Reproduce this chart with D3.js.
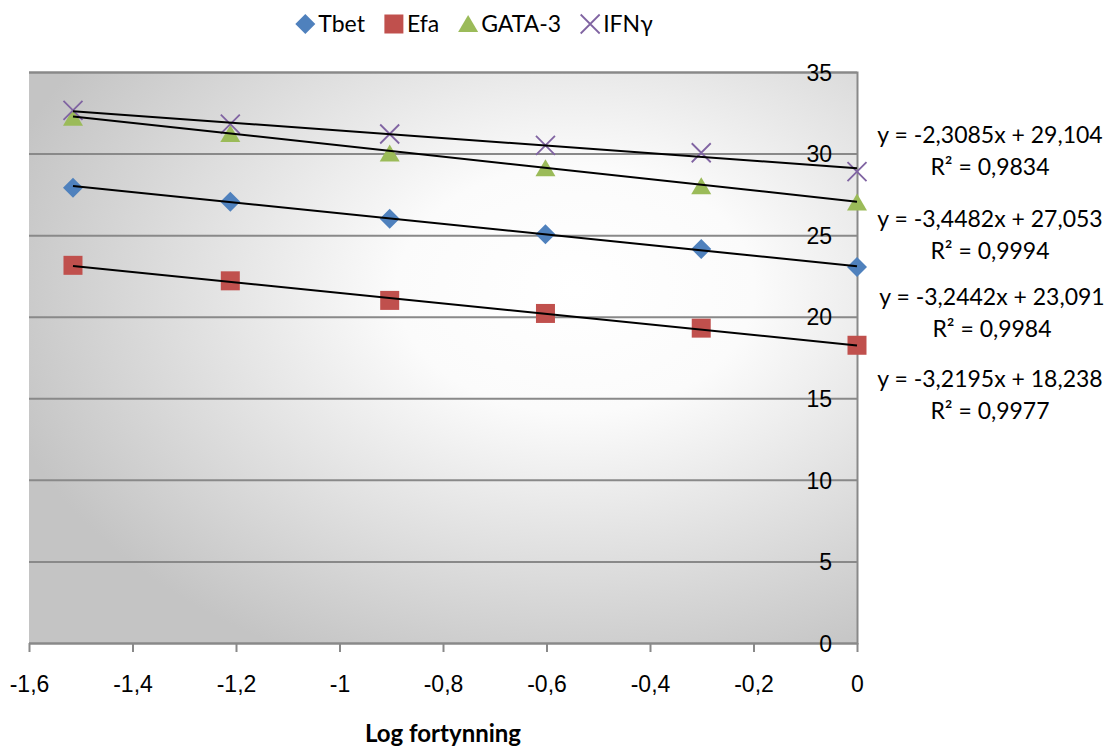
<!DOCTYPE html>
<html>
<head>
<meta charset="utf-8">
<script src="https://cdn.jsdelivr.net/npm/d3@7"></script>
<style>
	body { margin: 0; background: #fff; }
	svg { display: block; font-family: Lato, 'Open Sans', sans-serif; }
</style>
</head>
<body>
<div class="chart"></div>
<script>
// Chart size and plot area
const width = 1111;
const height = 747;
const margin = { top: 72, right: 254, bottom: 104, left: 29 };

// Data: log dilution on x, Ct value on y
const xValues = [-1.515, -1.211, -0.903, -0.602, -0.301, 0];
const tbetValues = [27.9, 27.05, 26.0, 25.05, 24.15, 23.05];
const efaValues = [23.15, 22.2, 21.0, 20.2, 19.3, 18.25];
const gataValues = [32.2, 31.2, 30.0, 29.1, 28.0, 27.0];
const ifnValues = [32.65, 31.8, 31.2, 30.5, 30.05, 28.9];

const seriesNames = ['Tbet', 'Efa', 'GATA-3', 'IFNγ'];
const seriesColors = ['#4f81bd', '#c0504d', '#9bbb59', '#8064a2'];
const seriesShapes = ['diamond', 'square', 'triangle', 'cross'];

// Linear trendlines (as printed on the chart)
const trendSlopes = [-3.2442, -3.2195, -3.4482, -2.3085];
const trendIntercepts = [23.091, 18.238, 27.053, 29.104];
const trendR2 = [0.9984, 0.9977, 0.9994, 0.9834];
// where the equation labels sit (centre x, y of the first line)
const labelPos = [[992, 297], [990, 379], [990, 219], [990, 135]];

const xTicks = [-1.6, -1.4, -1.2, -1, -0.8, -0.6, -0.4, -0.2, 0];
const yTicks = [0, 5, 10, 15, 20, 25, 30, 35];
const xTitle = 'Log fortynning';

const series = [tbetValues, efaValues, gataValues, ifnValues].map((vals, i) => ({
	name: seriesNames[i],
	color: seriesColors[i],
	shape: seriesShapes[i],
	slope: trendSlopes[i],
	intercept: trendIntercepts[i],
	r2: trendR2[i],
	label: labelPos[i],
	points: vals.map((v, j) => ({ x: xValues[j], y: v }))
}));

// Norwegian style numbers: decimal comma, plain hyphen
const locale = d3.formatLocale({ decimal: ',', thousands: ' ', grouping: [3], currency: ['', ''], minus: '-' });
const fmtTick = locale.format('');
const fmt4 = locale.format('.4f');
const fmt3 = locale.format('.3f');

const fontSize = 23;
const gridColor = '#898989';

function markerPath(shape) {
	if (shape === 'diamond') return 'M0,-10L10,0L0,10L-10,0Z';
	if (shape === 'square') return 'M-9.5,-9.5H9.5V9.5H-9.5Z';
	if (shape === 'triangle') return 'M0,-9L10,8L-10,8Z';
	return 'M-9.5,-9.5L9.5,9.5M-9.5,9.5L9.5,-9.5';
}

function styleMarker(sel, d) {
	if (d.shape === 'cross') {
		sel.attr('fill', 'none').attr('stroke', d.color).attr('stroke-width', 1.8);
	} else {
		sel.attr('fill', d.color).attr('stroke', 'none');
	}
}

function draw() {
	const svg = d3.select('.chart')
		.append('svg')
		.attr('width', width)
		.attr('height', height)
		.style('font-size', fontSize + 'px');

	const x = d3.scaleLinear()
		.domain([-1.6, 0])
		.range([margin.left, width - margin.right]);

	const y = d3.scaleLinear()
		.domain([0, 35])
		.range([height - margin.bottom, margin.top]);

	// Plot area gradient
	const grad = svg.append('defs').append('radialGradient')
		.attr('id', 'bg')
		.attr('cx', 0.66).attr('cy', 0.38).attr('r', 0.72)
		.attr('fx', 0.66).attr('fy', 0.38);
	grad.append('stop').attr('offset', 0).attr('stop-color', '#ffffff');
	grad.append('stop').attr('offset', 0.3).attr('stop-color', '#fbfbfb');
	grad.append('stop').attr('offset', 1).attr('stop-color', '#c4c4c4');

	svg.append('rect')
		.attr('x', x(-1.6))
		.attr('y', y(35))
		.attr('width', x(0) - x(-1.6))
		.attr('height', y(0) - y(35))
		.attr('fill', 'url(#bg)');

	// Gridlines + y labels (axis sits on the right, at x = 0)
	const yAxis = svg.append('g')
		.attr('transform', `translate(${x(0)},0)`)
		.call(d3.axisLeft(y).tickValues(yTicks).tickFormat(fmtTick)
			.tickSize(x(0) - x(-1.6)).tickPadding(-x(0) + x(-1.6) + 25))
		.call(g => g.select('.domain').attr('stroke', gridColor).attr('stroke-width', 2));
	yAxis.selectAll('.tick line').attr('stroke', gridColor).attr('stroke-width', 2);
	yAxis.selectAll('.tick text')
		.attr('fill', '#000')
		.attr('font-size', fontSize)
		.attr('font-family', null)
		.attr('dy', '0.36em')
		.attr('text-anchor', 'end')
		.attr('x', -25);

	// x axis along y = 0
	const xAxis = svg.append('g')
		.attr('transform', `translate(0,${y(0)})`)
		.call(d3.axisBottom(x).tickValues(xTicks).tickFormat(fmtTick).tickSize(9).tickPadding(24))
		.call(g => g.select('.domain').remove());
	xAxis.selectAll('.tick line').attr('stroke', gridColor).attr('stroke-width', 2);
	xAxis.selectAll('.tick text')
		.attr('fill', '#000')
		.attr('font-size', fontSize)
		.attr('font-family', null);

	svg.append('text')
		.attr('x', (x(-1.6) + x(0)) / 2)
		.attr('y', 742)
		.attr('text-anchor', 'middle')
		.attr('font-weight', 'bold')
		.attr('font-size', 24)
		.text(xTitle);

	// Markers
	series.forEach(s => {
		svg.append('g')
			.selectAll('path')
			.data(s.points)
			.join('path')
				.attr('transform', d => `translate(${x(d.x)},${y(d.y)})`)
				.attr('d', markerPath(s.shape))
				.call(sel => styleMarker(sel, s));
	});

	// Trendlines on top, over the data range
	const xExtent = d3.extent(xValues);
	svg.append('g')
		.selectAll('line')
		.data(series)
		.join('line')
			.attr('x1', x(xExtent[0]))
			.attr('x2', x(xExtent[1]))
			.attr('y1', d => y(d.slope * xExtent[0] + d.intercept))
			.attr('y2', d => y(d.slope * xExtent[1] + d.intercept))
			.attr('stroke', '#000')
			.attr('stroke-width', 2);

	// Equation labels
	const eq = svg.append('g').attr('text-anchor', 'middle');
	series.forEach(s => {
		const sign = s.intercept < 0 ? '-' : '+';
		eq.append('text')
			.attr('x', s.label[0])
			.attr('y', s.label[1])
			.attr('dy', '0.36em')
			.text(`y = ${fmt4(s.slope)}x ${sign} ${fmt3(Math.abs(s.intercept))}`);
		eq.append('text')
			.attr('x', s.label[0])
			.attr('y', s.label[1] + 32)
			.attr('dy', '0.36em')
			.text(`R² = ${fmt4(s.r2)}`);
	});

	// Legend, centred above the plot
	const legend = svg.append('g');
	let cursor = 0;
	series.forEach(s => {
		const item = legend.append('g');
		item.append('path')
			.attr('transform', `translate(${cursor + 10},24)`)
			.attr('d', markerPath(s.shape))
			.call(sel => styleMarker(sel, s));
		const t = item.append('text')
			.attr('x', cursor + 23)
			.attr('y', 24)
			.attr('dy', '0.36em')
			.text(s.name);
		cursor += 23 + t.node().getComputedTextLength() + 19;
	});
	legend.attr('transform', `translate(${474 - (cursor - 19) / 2},0)`);
}

draw();
</script>
</body>
</html>
